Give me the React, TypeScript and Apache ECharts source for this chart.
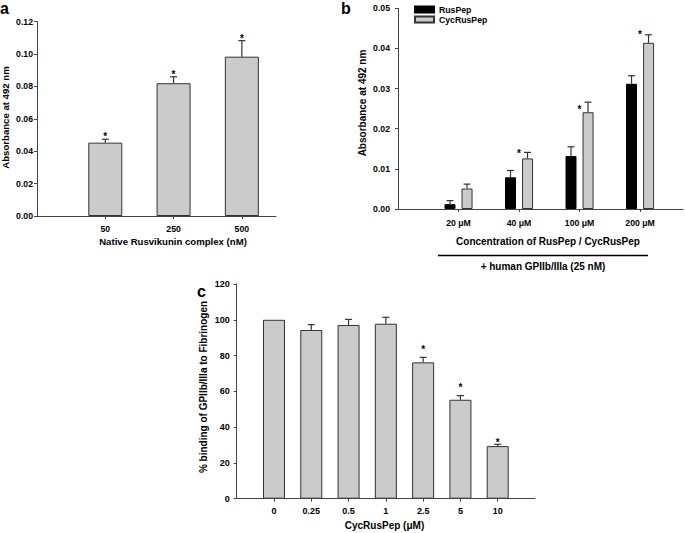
import React, { useEffect, useRef } from "react";
import * as echarts from "echarts";

// ---------- data ----------
// Panel a
const catsA = ["50", "250", "500"];
const valsA = [0.0453, 0.082, 0.0984];
const errA = [0.0021, 0.004, 0.0099];
const starIdxA = [0, 1, 2];
const starYA = [0.0506, 0.0885, 0.1107];
const ticksYA = [0, 0.12, 0.02];

// Panel b
const catsB = ["20 μM", "40 μM", "100 μM", "200 μM"];
const rusPep = [0.0012, 0.0079, 0.0132, 0.0312];
const rusPepErr = [0.0009, 0.0017, 0.0023, 0.002];
const cycRusPep = [0.0051, 0.0126, 0.0241, 0.0414];
const cycRusPepErr = [0.0011, 0.0015, 0.0025, 0.002];
const starIdxB = [1, 2, 3];
const starYB = [0.01445, 0.0253, 0.0439];
const ticksYB = [0, 0.05, 0.01];

// Panel c
const catsC = ["0", "0.25", "0.5", "1", "2.5", "5", "10"];
const valsC = [100, 94.3, 97.1, 97.8, 76.2, 55.3, 29.4];
const errC = [0, 3, 3.1, 3.6, 2.8, 2.3, 1.0];
const starIdxC = [4, 5, 6];
const starYC = [84.4, 63.5, 32.4];
const ticksYC = [0, 120, 20];

const FONT = "'Liberation Sans', Arial, Helvetica, sans-serif";
const GREY = "#cbcbcb";
const EDGE = "#333333";
const AXIS = "#444444";

function pos(n: number) {
  return Array.from({ length: n }, (_, i) => i + 1);
}

function errRender(dx: number) {
  return (params: any, api: any) => {
    const x = api.value(0);
    const v = api.value(1);
    const e = api.value(2);
    if (!e) return null;
    const b = api.coord([x, v]);
    const t = api.coord([x, v + e]);
    const cx = b[0] + dx;
    return {
      type: "group",
      children: [
        { type: "line", shape: { x1: cx, y1: b[1], x2: cx, y2: t[1] }, style: { stroke: EDGE, lineWidth: 1.2 } },
        { type: "line", shape: { x1: cx - 3.5, y1: t[1], x2: cx + 3.5, y2: t[1] }, style: { stroke: EDGE, lineWidth: 1.2 } },
      ],
    };
  };
}

function starRender(params: any, api: any) {
  const p = api.coord([api.value(0), api.value(1)]);
  return {
    type: "text",
    x: p[0],
    y: p[1] + 2.2,
    style: { text: "*", align: "center", verticalAlign: "middle", font: `bold 10px ${FONT}`, fill: "#000" },
  };
}

function xAxis(gridIndex: number, cats: string[], max: number, fontSize: number, margin: number) {
  const vals = pos(cats.length);
  return {
    type: "value",
    gridIndex,
    min: 0,
    max,
    interval: 1,
    splitLine: { show: false },
    axisLine: { show: true, onZero: false, lineStyle: { color: AXIS, width: 1 } },
    axisTick: { show: true, inside: false, length: 3, customValues: vals, lineStyle: { color: AXIS } },
    axisLabel: {
      customValues: vals,
      margin,
      formatter: (v: number) => cats[Math.round(v) - 1] ?? "",
      fontFamily: FONT,
      fontWeight: "bold",
      fontSize,
      color: "#000",
    },
  };
}

function yAxis(gridIndex: number, t: number[], digits: number, fontSize: number, margin: number) {
  return {
    type: "value",
    gridIndex,
    min: t[0],
    max: t[1],
    interval: t[2],
    splitLine: { show: false },
    axisLine: { show: true, lineStyle: { color: AXIS, width: 1 } },
    axisTick: { show: true, inside: false, length: 3, lineStyle: { color: AXIS } },
    axisLabel: {
      margin,
      formatter: (v: number) => v.toFixed(digits),
      fontFamily: FONT,
      fontWeight: "bold",
      fontSize,
      color: "#000",
    },
  };
}

function txt(text: string, x: number, y: number, size: number, rot = 0, align = "center", vAlign = "middle") {
  return {
    type: "text",
    x,
    y,
    rotation: rot,
    silent: true,
    style: { text, align, verticalAlign: vAlign, font: `bold ${size}px ${FONT}`, fill: "#000" },
  };
}

export default function App() {
  const ref = useRef<HTMLDivElement>(null);
  useEffect(() => {
    if (!ref.current) return;
    const chart = echarts.init(ref.current, null, { renderer: "svg" });
    const xa = pos(catsA.length);
    const xb = pos(catsB.length);
    const xc = pos(catsC.length);
    const option: any = {
      animation: false,
      backgroundColor: "#ffffff",
      legend: {
        show: true,
        left: 409,
        top: 0,
        orient: "vertical",
        itemWidth: 19,
        itemHeight: 6,
        itemGap: 1,
        icon: "rect",
        data: ["RusPep", "CycRusPep"],
        textStyle: { fontFamily: FONT, fontWeight: "bold", fontSize: 8.7, color: "#000" },
      },
      grid: [
        { left: 37, top: 21.7, width: 239, height: 194.3 },
        { left: 398, top: 8.3, width: 285, height: 200.7 },
        { left: 236.7, top: 284, width: 298.3, height: 214.7 },
      ],
      xAxis: [
        xAxis(0, catsA, 3.5, 8.7, 8),
        xAxis(1, catsB, 4.71, 8.7, 9.5),
        xAxis(2, catsC, 9, 9, 8),
      ].map((a, i) => (i === 2 ? { ...a, max: 8 } : a)),
      yAxis: [
        yAxis(0, ticksYA, 2, 8.7, 4),
        yAxis(1, ticksYB, 2, 8.7, 8),
        yAxis(2, ticksYC, 0, 9, 7),
      ],
      series: [
        {
          type: "bar",
          name: "a",
          xAxisIndex: 0,
          yAxisIndex: 0,
          barWidth: 34,
          data: valsA.map((v, i) => [xa[i], v]),
          itemStyle: { color: GREY, borderColor: EDGE, borderWidth: 1 },
        },
        {
          type: "custom",
          xAxisIndex: 0,
          yAxisIndex: 0,
          renderItem: errRender(0),
          encode: { x: 0, y: 1 },
          data: valsA.map((v, i) => [xa[i], v, errA[i]]),
          z: 5,
        },
        {
          type: "custom",
          xAxisIndex: 0,
          yAxisIndex: 0,
          renderItem: starRender,
          encode: { x: 0, y: 1 },
          data: starIdxA.map((k, i) => [xa[k], starYA[i]]),
          z: 6,
        },
        {
          type: "bar",
          name: "RusPep",
          xAxisIndex: 1,
          yAxisIndex: 1,
          barWidth: 11,
          barGap: "55%",
          data: rusPep.map((v, i) => [xb[i], v]),
          itemStyle: { color: "#000000", borderColor: "#000000", borderWidth: 1 },
        },
        {
          type: "bar",
          name: "CycRusPep",
          xAxisIndex: 1,
          yAxisIndex: 1,
          barWidth: 11,
          barGap: "55%",
          data: cycRusPep.map((v, i) => [xb[i], v]),
          itemStyle: { color: GREY, borderColor: EDGE, borderWidth: 1 },
        },
        {
          type: "custom",
          xAxisIndex: 1,
          yAxisIndex: 1,
          renderItem: errRender(-8.5),
          encode: { x: 0, y: 1 },
          data: rusPep.map((v, i) => [xb[i], v, rusPepErr[i]]),
          z: 5,
        },
        {
          type: "custom",
          xAxisIndex: 1,
          yAxisIndex: 1,
          renderItem: errRender(8.5),
          encode: { x: 0, y: 1 },
          data: cycRusPep.map((v, i) => [xb[i], v, cycRusPepErr[i]]),
          z: 5,
        },
        {
          type: "custom",
          xAxisIndex: 1,
          yAxisIndex: 1,
          renderItem: starRender,
          encode: { x: 0, y: 1 },
          data: starIdxB.map((k, i) => [xb[k], starYB[i]]),
          z: 6,
        },
        {
          type: "bar",
          name: "c",
          xAxisIndex: 2,
          yAxisIndex: 2,
          barWidth: 22,
          data: valsC.map((v, i) => [xc[i], v]),
          itemStyle: { color: GREY, borderColor: EDGE, borderWidth: 1 },
        },
        {
          type: "custom",
          xAxisIndex: 2,
          yAxisIndex: 2,
          renderItem: errRender(0),
          encode: { x: 0, y: 1 },
          data: valsC.map((v, i) => [xc[i], v, errC[i]]),
          z: 5,
        },
        {
          type: "custom",
          xAxisIndex: 2,
          yAxisIndex: 2,
          renderItem: starRender,
          encode: { x: 0, y: 1 },
          data: starIdxC.map((k, i) => [xc[k], starYC[i]]),
          z: 6,
        },
      ],
      graphic: [
        txt("a", 0, 0, 16, 0, "left", "top"),
        txt("b", 341, 0, 16, 0, "left", "top"),
        txt("c", 197, 283, 16, 0, "left", "top"),
        txt("Absorbance at 492 nm", 5.5, 117.5, 9.6, Math.PI / 2),
        txt("Native Rusvikunin complex (nM)", 173, 241.5, 9.6),
        txt("Absorbance at 492 nm", 362.5, 103, 10, Math.PI / 2),
        txt("Concentration of RusPep / CycRusPep", 548, 241, 10),
        {
          type: "line",
          shape: { x1: 438, y1: 255.5, x2: 648, y2: 255.5 },
          style: { stroke: "#000", lineWidth: 1.5 },
        },
        txt("+ human GPIIb/IIIa (25 nM)", 543, 266.5, 10),
        txt("% binding of GPIIb/IIIa to Fibrinogen", 203, 387, 10, Math.PI / 2),
        txt("CycRusPep (μM)", 384.5, 525, 10),
      ],
    };
    chart.setOption(option);
    return () => chart.dispose();
  }, []);
  return (
    <div
      ref={ref}
      style={{ position: "absolute", left: 0, top: 0, width: 685, height: 533, background: "#fff" }}
    />
  );
}
